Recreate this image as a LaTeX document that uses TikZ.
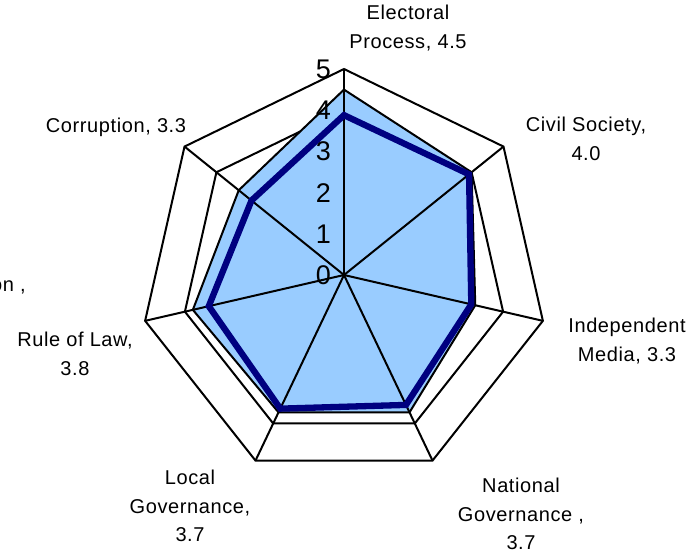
\documentclass[tikz,border=0pt]{standalone}
\usepackage{fontspec}
\setmainfont{Liberation Sans}
\newfontfamily\labfont{Liberation Sans}[LetterSpace=3]
\definecolor{fillblue}{HTML}{99CCFF}
\definecolor{navyline}{HTML}{000080}
\begin{document}
\begin{tikzpicture}[x=1pt,y=1pt,
  gridring/.style={black,line width=2pt,line join=miter},
  axisline/.style={black,line width=2pt},
  seriesA/.style={fill=fillblue,draw=black,line width=2pt,line join=miter},
  seriesB/.style={draw=navyline,line width=6.3pt,line join=miter},
  lab/.style={align=center,inner sep=0pt,font=\labfont\fontsize{20}{28.5}\selectfont},
  ticklab/.style={anchor=east,inner sep=0pt,font=\fontsize{27}{27}\selectfont}]
\useasboundingbox (0,0) rectangle (700,-554);
\begin{scope}[shift={(344pt,-275pt)},x=40.8pt,y=41.2pt]
  \coordinate (c) at (0,0);
  \foreach \k in {0,...,6}{
    \foreach \r in {1,...,5}{
      \coordinate (g\r-\k) at ({90-\k*360/7}:\r);
    }
  }
  % rings
  \foreach \r in {1,...,5}{
    \draw[gridring] (g\r-0) -- (g\r-1) -- (g\r-2) -- (g\r-3) -- (g\r-4) -- (g\r-5) -- (g\r-6) -- cycle;
  }
  % series A (filled)
  \foreach \v [count=\k from 0] in {4.5,4.0,3.3,3.7,3.7,3.8,3.3}{
    \coordinate (a\k) at ({90-\k*360/7}:\v);
  }
  \draw[seriesA] (a0) -- (a1) -- (a2) -- (a3) -- (a4) -- (a5) -- (a6) -- cycle;
  % axes
  \foreach \k in {0,...,6}{
    \draw[axisline] (c) -- (g5-\k);
  }
  % series B (line)
  \foreach \v [count=\k from 0] in {3.88,3.92,3.2,3.5,3.6,3.4,2.9}{
    \coordinate (b\k) at ({90-\k*360/7}:\v);
  }
  \draw[seriesB] (b0) -- (b1) -- (b2) -- (b3) -- (b4) -- (b5) -- (b6) -- cycle;
\end{scope}
% scale labels
\foreach \t in {0,...,5}{
  \node[ticklab] (t\t) at (331,{-275+41.2*\t}) {\t};
}
% category labels
\node[lab] (l0) at (408,-28) {Electoral\\Process, 4.5};
\node[lab] (l1) at (586,-139) {Civil Society,\\4.0};
\node[lab] (l2) at (627,-341) {Independent\\Media, 3.3};
\node[lab] (l3) at (521,-514) {National\\Governance ,\\3.7};
\node[lab] (l4) at (190,-506) {Local\\Governance,\\3.7};
\node[lab] (l5) at (75,-354) {Rule of Law,\\3.8};
\node[lab] (l6) at (116,-127) {Corruption, 3.3};
\node[lab,anchor=east] (lcut) at (26,-286) {Corruption ,};
\end{tikzpicture}
\end{document}
